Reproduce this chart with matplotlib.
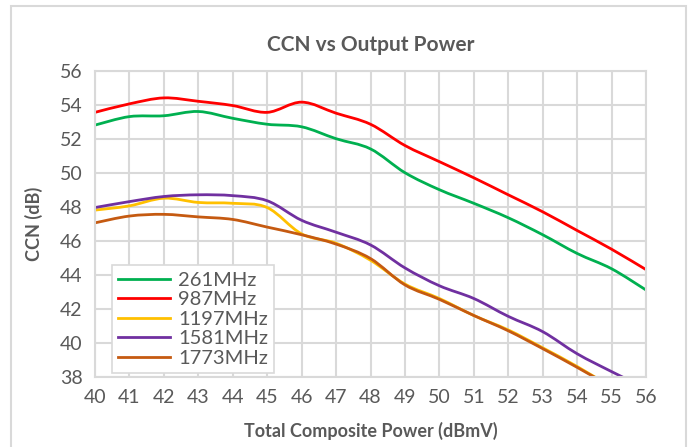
import matplotlib.pyplot as plt
import numpy as np
from matplotlib.patches import Rectangle, PathPatch
from matplotlib.path import Path
from matplotlib.lines import Line2D

power = [40, 41, 42, 43, 44, 45, 46, 47, 48, 49, 50, 51, 52, 53, 54, 55, 56]

ccn_261 = [52.8, 53.3, 53.35, 53.6, 53.2, 52.85, 52.7, 52.0, 51.4, 50.0, 49.0, 48.2, 47.35, 46.35, 45.25, 44.35, 43.1]
ccn_987 = [53.55, 54.05, 54.4, 54.2, 53.95, 53.55, 54.15, 53.5, 52.85, 51.6, 50.65, 49.7, 48.7, 47.7, 46.6, 45.5, 44.3]
ccn_1197 = [47.8, 48.05, 48.5, 48.25, 48.2, 47.95, 46.4, 45.85, 44.85, 43.45, 42.6, 41.6, 40.75, 39.7, 38.6, 37.4, 36.3]
ccn_1581 = [47.95, 48.3, 48.6, 48.7, 48.65, 48.35, 47.2, 46.5, 45.75, 44.4, 43.35, 42.6, 41.55, 40.65, 39.35, 38.3, 37.3]
ccn_1773 = [47.05, 47.45, 47.55, 47.4, 47.25, 46.8, 46.35, 45.8, 44.95, 43.4, 42.55, 41.6, 40.7, 39.65, 38.55, 37.4, 36.3]

series = [
    ("261MHz", ccn_261, "#00B050"),
    ("987MHz", ccn_987, "#FF0000"),
    ("1197MHz", ccn_1197, "#FFC000"),
    ("1581MHz", ccn_1581, "#7030A0"),
    ("1773MHz", ccn_1773, "#C55A11"),
]

plt.rcParams['font.family'] = ['Lato', 'DejaVu Sans']
grey = "#595959"


def smooth_path(x, y):
    # excel-style smoothed line: bezier segments through the points
    x = np.asarray(x, float)
    y = np.asarray(y, float)
    verts = [(x[0], y[0])]
    codes = [Path.MOVETO]
    n = len(x)
    for i in range(n - 1):
        p0 = i - 1 if i > 0 else i
        p3 = i + 2 if i + 2 < n else i + 1
        c1 = (x[i] + (x[i + 1] - x[p0]) / 6, y[i] + (y[i + 1] - y[p0]) / 6)
        c2 = (x[i + 1] - (x[p3] - x[i]) / 6, y[i + 1] - (y[p3] - y[i]) / 6)
        verts += [c1, c2, (x[i + 1], y[i + 1])]
        codes += [Path.CURVE4] * 3
    return Path(verts, codes)


fig = plt.figure(figsize=(6.91, 4.47), dpi=100)
ax = fig.add_axes([95 / 691, 1 - 376.7 / 447, (646 - 95) / 691, (376.7 - 70.7) / 447])

# chart border
fig.patches.append(Rectangle((11 / 691, -0.05), (685.5 - 11) / 691, 1.05 - 6 / 447,
                             transform=fig.transFigure, fill=False,
                             edgecolor="#D9D9D9", linewidth=1.5))

handles = []
for name, vals, col in series:
    ax.add_patch(PathPatch(smooth_path(power, vals), facecolor="none", edgecolor=col,
                           linewidth=2, capstyle="round", joinstyle="round"))
    handles.append(Line2D([], [], color=col, linewidth=2, label=name))

ax.set_xlim(40, 56)
ax.set_ylim(38, 56)
ax.set_xticks(range(40, 57))
ax.set_yticks(range(38, 57, 2))
ax.grid(True, color="#D9D9D9", linewidth=1.5)
ax.set_axisbelow(True)
for s in ax.spines.values():
    s.set_color("#D9D9D9")
    s.set_linewidth(1.5)
ax.tick_params(length=0, labelsize=14, colors=grey, pad=9)

ax.set_title("CCN vs Output Power", fontsize=15, fontweight="bold", color=grey, pad=14)
ax.set_xlabel("Total Composite Power (dBmV)", fontsize=13, fontweight="bold", color=grey, labelpad=11)
ax.set_ylabel("CCN (dB)", fontsize=13, fontweight="bold", color=grey, labelpad=12)

leg = ax.legend(handles=handles, loc="lower left", bbox_to_anchor=(0.03, 0.013), fontsize=14.5,
                handlelength=2.6, labelspacing=0.12, borderpad=0.3, fancybox=False,
                framealpha=1, handletextpad=0.4, borderaxespad=0)
leg.get_frame().set_edgecolor("#D9D9D9")
leg.get_frame().set_linewidth(1.2)
for t in leg.get_texts():
    t.set_color(grey)

fig.savefig("out.png", dpi=100)
